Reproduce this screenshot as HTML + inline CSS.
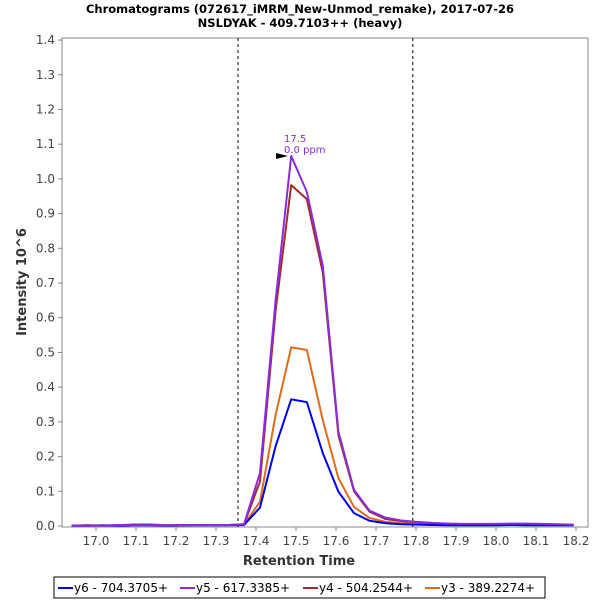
<!DOCTYPE html>
<html><head><meta charset="utf-8"><style>
body{margin:0;background:#fff;font-family:"Liberation Sans","DejaVu Sans",sans-serif}
svg text{font-family:"DejaVu Sans","Liberation Sans",sans-serif}
</style></head><body>
<svg id="c" width="600" height="600" xmlns="http://www.w3.org/2000/svg">
<text x="300" y="13" text-anchor="middle" font-size="11.5" font-weight="bold">Chromatograms (072617_iMRM_New-Unmod_remake), 2017-07-26</text>
<text x="300" y="27" text-anchor="middle" font-size="11.5" font-weight="bold">NSLDYAK - 409.7103++ (heavy)</text>
<rect x="62" y="38" width="526" height="489" fill="#fff" stroke="#888"/>
<g id="axes"></g><g id="series"></g>
<text x="299" y="565" text-anchor="middle" font-size="13" font-weight="bold" fill="#333">Retention Time</text>
<text transform="translate(26,282) rotate(-90)" text-anchor="middle" font-size="13" font-weight="bold" fill="#333">Intensity 10^6</text>
<text x="284" y="142" font-size="10" fill="#8a2be2">17.5</text>
<text x="284" y="153" font-size="10" fill="#8a2be2">0.0 ppm</text>
<polygon points="276,153 288,156 276,159" fill="#000"/>
<g>
<rect x="54" y="577" width="491" height="21" fill="#fff" stroke="#000"/>
<g id="legend"></g>
</g>
</svg>
<script>
const times=[16.939,16.978,17.017,17.056,17.095,17.135,17.174,17.213,17.252,17.292,17.331,17.37,17.41,17.449,17.488,17.527,17.567,17.606,17.645,17.684,17.724,17.763,17.802,17.841,17.881,17.92,17.959,17.998,18.038,18.077,18.116,18.155,18.194];
const y6=[0.001,0.001,0.002,0.001,0.002,0.002,0.001,0.002,0.002,0.002,0.002,0.003,0.053,0.23,0.365,0.357,0.21,0.099,0.037,0.015,0.008,0.005,0.004,0.003,0.002,0.002,0.002,0.002,0.003,0.002,0.002,0.002,0.002];
const y5=[0.001,0.002,0.001,0.003,0.002,0.002,0.002,0.003,0.003,0.003,0.003,0.005,0.153,0.65,1.066,0.963,0.75,0.272,0.104,0.044,0.024,0.016,0.012,0.009,0.007,0.006,0.006,0.006,0.007,0.007,0.006,0.005,0.004];
const y4=[0.001,0.002,0.001,0.002,0.003,0.003,0.002,0.002,0.003,0.003,0.003,0.005,0.128,0.62,0.982,0.942,0.73,0.262,0.1,0.041,0.02,0.014,0.011,0.008,0.006,0.005,0.005,0.005,0.006,0.006,0.005,0.004,0.003];
const y3=[0.001,0.001,0.001,0.002,0.005,0.005,0.002,0.003,0.003,0.003,0.003,0.004,0.07,0.32,0.515,0.507,0.305,0.138,0.055,0.023,0.012,0.008,0.006,0.005,0.004,0.003,0.003,0.003,0.004,0.004,0.003,0.003,0.003];
const xTicks=[17.0,17.1,17.2,17.3,17.4,17.5,17.6,17.7,17.8,17.9,18.0,18.1,18.2];
const yTicks=[0,0.1,0.2,0.3,0.4,0.5,0.6,0.7,0.8,0.9,1.0,1.1,1.2,1.3,1.4];
const boundaries=[17.355,17.792];
const seriesNames=["y6 - 704.3705+","y5 - 617.3385+","y4 - 504.2544+","y3 - 389.2274+"];
const seriesColors=["#0000ff","#8a2be2","#a52a2a","#e06c1a"];
const NS="http://www.w3.org/2000/svg";
const X=t=>96+(t-17.0)*400;
const Y=v=>526-v*347.1;
function mk(tag,attrs,parent){const e=document.createElementNS(NS,tag);for(const k in attrs)e.setAttribute(k,attrs[k]);parent.appendChild(e);return e;}
const axes=document.getElementById('axes');
xTicks.forEach(t=>{
 const l=mk('line',{x1:X(t),x2:X(t),y1:527,y2:531,stroke:'#888'},axes);
 
 
 const tx=mk('text',{x:X(t),y:545,'text-anchor':'middle','font-size':'12',fill:'#444'},axes);
 tx.textContent=t.toFixed(1);
 
 
});
yTicks.forEach(v=>{
 const l=mk('line',{x1:58,x2:62,y1:Y(v),y2:Y(v),stroke:'#888'},axes);
 
 
 const tx=mk('text',{x:55,y:Y(v)+4,'text-anchor':'end','font-size':'12',fill:'#444'},axes);
 tx.textContent=v.toFixed(1);
 
 
});
boundaries.forEach(b=>{
 const l=mk('line',{x1:X(b),x2:X(b),y1:38,y2:527,stroke:'#000','stroke-dasharray':'3,3'},axes);
 
 
});
const sg=document.getElementById('series');
[y3,y4,y6,y5].forEach((arr)=>{
 const i=[y6,y5,y4,y3].indexOf(arr);
 const p=mk('polyline',{points:times.map((t,k)=>X(t)+','+Y(arr[k])).join(' '),fill:'none',stroke:seriesColors[i],'stroke-width':'2','stroke-linejoin':'round'},sg);
 
 
});
const lg=document.getElementById('legend');
const lx=[58,180,303,425];
seriesNames.forEach((n,i)=>{
 const l=mk('line',{x1:lx[i],x2:lx[i]+15,y1:588,y2:588,stroke:seriesColors[i],'stroke-width':'2'},lg);
 
 
 const t=mk('text',{x:lx[i]+16,y:592,'font-size':'12',fill:'#000'},lg);
 t.textContent=n;
 
 
});
</script>
</body></html>
